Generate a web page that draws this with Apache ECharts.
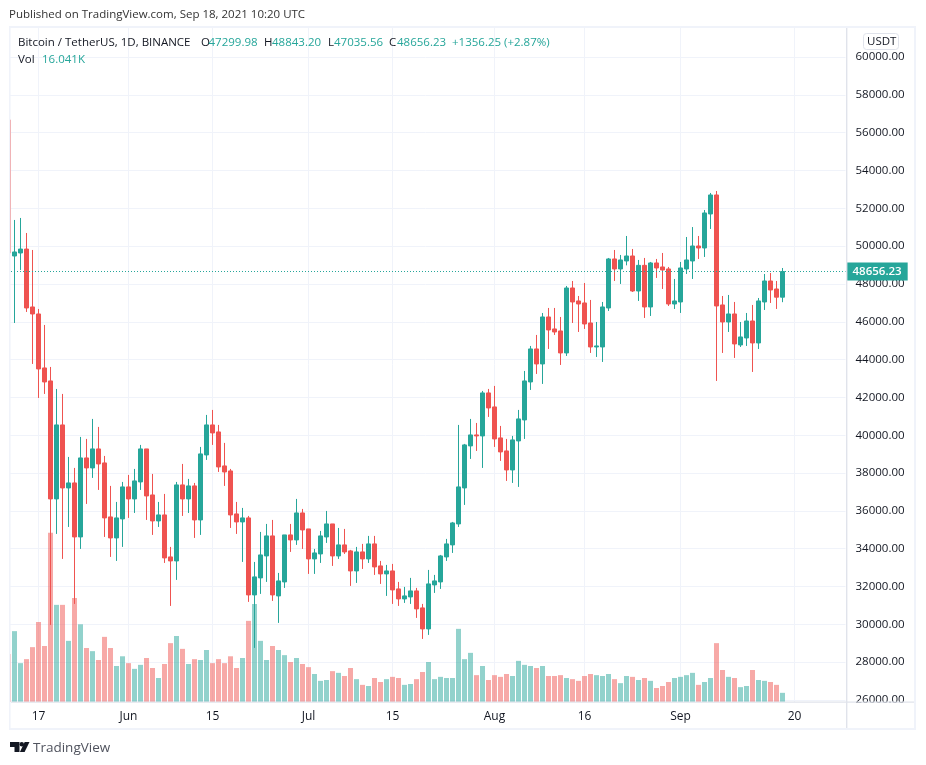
<!DOCTYPE html>
<html><head><meta charset="utf-8">
<style>html,body{margin:0;padding:0;background:#fff}#c{width:926px;height:765px}</style>
<script src="https://cdn.jsdelivr.net/npm/echarts@6/dist/echarts.min.js"></script>
</head><body><div id="c"></div>
<script>
const opens=[56670,
49479,49637,49845,46783,46413,43558,42871,36632,40545,
37214,37478,34623,38800,38271,39276,38536,35681,34570,35575,
37267,36632,37531,39276,36843,35469,35786,33566,33354,37373,
36632,37320,35522,38959,40545,40175,38377,38112,35839,35416,
35628,31557,32456,33618,34676,31504,32244,34729,34465,35891,
35046,33460,33724,34623,35310,33618,34201,33883,32825,33830,
33460,34254,33090,32667,32825,31874,31345,31451,31768,30870,
29759,32086,32244,33566,34201,35310,37214,39435,40016,39963,
42237,41497,39858,39170,38165,39699,40809,42818,44563,43770,
46254,45620,45514,44351,47787,47100,46994,45936,44668,44668,
46730,49321,48792,49215,49479,47628,48983,46783,49109,48898,
48792,46941,47047,48792,49215,50007,49902,51700,52705,46889,
45989,46413,44774,45144,46042,44880,47047,48157,47734,47299.98];
const closes=[49640,
49690,49845,46730,46413,43505,42818,36632,40545,37214,
37478,34623,38800,38271,39276,38483,35628,34570,35628,37267,
36632,37584,39276,36790,35469,35786,33513,33354,37373,36632,
37320,35522,39012,40545,40122,38324,38059,35786,35416,35628,
31557,32509,33671,34676,31557,32297,34729,34465,35891,34993,
33460,33777,34676,35310,33618,34201,33830,32825,33830,33460,
34254,33037,32667,32825,31821,31345,31504,31768,30817,29759,
32138,32297,33618,34254,35363,37267,39488,40016,39963,42237,
41444,39805,39118,38165,39752,40862,42871,44563,43770,46254,
45567,45461,44351,47787,47047,46941,45884,44668,44721,46783,
49321,48792,49268,49479,47628,48983,46783,49109,48845,48739,
46941,47100,48845,49268,50007,49902,51753,52705,46836,45989,
46413,44827,45197,46042,44880,47100,48157,47681,47300,48656.23];
const highs=[58000,
51383,51489,50695,49796,46677,45831,43611,42448,42184,
38853,38271,39910,39805,40862,40439,38906,37320,36473,37531,
37901,38218,39488,39276,37954,36473,36896,34095,37531,38483,
37690,37478,39382,41074,41338,40545,39594,38218,36473,36156,
35733,33301,34887,35310,35522,32719,34729,35310,36632,36103,
35046,33989,34940,35997,35310,35098,35046,33936,34095,34254,
34676,34676,33354,33143,33196,32244,31980,32456,31927,31081,
32878,32614,33671,34518,35416,40545,39541,40862,40650,42342,
42448,42607,40492,39805,39963,41338,43399,44721,45303,46465,
46730,46730,46254,47893,48157,47364,48051,47153,45989,47047,
49374,49796,49532,50536,49849,49268,49374,49162,49321,49637,
48898,48263,49162,50483,51008,50536,51911,52811,52916,47364,
47417,47047,45989,46465,46889,47258,48528,48581,48157,48843.20];
const lows=[48600,
45936,48739,46518,43770,41972,42184,29970,34782,33460,
35150,31081,33989,36368,37743,37108,34623,33566,33354,34095,
35628,35891,37108,35522,34729,35150,33248,30975,32350,35733,
35891,34570,34729,38694,39488,38059,37320,35098,34782,33301,
31187,28755,31610,32244,31239,30077,31927,33830,34201,33989,
32667,32667,33248,34306,33090,33460,33724,32033,32191,32931,
33248,32614,32138,31504,31081,30975,31134,31081,30341,29230,
29442,31662,31874,33354,33777,35150,36315,38747,39170,38271,
40968,39382,38641,37584,37478,37267,39805,42395,43241,42713,
44563,45303,43717,44192,45936,45461,45620,44351,44139,43875,
46571,48157,48000,48983,47575,47100,46201,46307,48316,47734,
46836,46677,46466,48528,48263,49321,49427,50906,42871,44351,
45461,44087,44668,44721,43347,44563,46624,46994,46677,47035.56];
const volumes=[84,
124,68,75,96,140,98,296,170,170,
107,182,136,94.5,89,73.5,114,94.5,63,80,
68,58,65,77,59.5,42,66.5,103,115.5,93,
66.5,75,73.5,91,68,75,68,80,59.5,77,
142,171.5,107,73.5,98,91,82,70,77,66.5,
61,49,37,38.5,54,51,45.5,59.5,40,30,
28,42,35,40,44,42,30,31.5,40,52.5,
70,40,44,42,42,128,75,86,47,63,
38.5,47,44,49,45.5,72,65,63,59.5,63,
45.5,45.5,47,42,40,37,45.5,49,47,45.5,
49,40,33,45.5,44,38.5,42,37,24.5,28,
35,42,44,47,51,30,35,42,103,56,
44,42,26,28,56,38.5,37,35,30,16.041];

const startDay=Date.UTC(2021,4,12);
const slotCount=140;
const categories=[];
for(let i=0;i<slotCount;i++){categories.push(new Date(startDay+i*864e5).toISOString().slice(0,10));}
const tickDates=['2021-05-17','2021-06-01','2021-06-15','2021-07-01','2021-07-15','2021-08-01','2021-08-16','2021-09-01','2021-09-20'];
const tickLabels=['17','Jun','15','Jul','15','Aug','16','Sep','20'];
const priceMin=26000, priceMax=60000, priceStep=2000;
const volumeMax=1181.25;

const UP='#26a69a',DOWN='#ef5350',FRAME='#f0f3fa',AXIS='#e0e3eb',INK='#131722',FONT='"Open Sans"';
const candleData=opens.map((o,i)=>[o,closes[i],lows[i],highs[i]]);
const volumeData=volumes.map((v,i)=>({value:v,itemStyle:{color:closes[i]>=opens[i]?'rgba(38,166,154,0.5)':'rgba(239,83,80,0.5)'}}));
const isTick=(i,v)=>tickDates.includes(v);

const txt=(x,y,text,fill,size)=>({type:'text',x,y,silent:true,z:100,style:{text,fill:fill||INK,font:(size||11.5)+'px '+FONT,textVerticalAlign:'middle',textBaseline:'middle'}});
const box=(x,y,w,h,fill)=>({type:'rect',silent:true,z:100,shape:{x,y,width:w,height:h},style:{fill}});
const legendText=[
 txt(18,43,'Bitcoin / TetherUS, 1D, BINANCE'),
 txt(201,43,'O'),txt(208.5,43,'47299.98',UP),
 txt(264,43,'H'),txt(272,43,'48843.20',UP),
 txt(328,43,'L'),txt(334,43,'47035.56',UP),
 txt(389,43,'C'),txt(397,43,'48656.23',UP),
 txt(452,43,'+1356.25 (+2.87%)',UP),
 txt(18,60,'Vol'),txt(42,60,'16.041K',UP)
];
const chart=echarts.init(document.getElementById('c'),null,{renderer:'canvas'});
chart.setOption({
 animation:false,
 backgroundColor:'#fff',
 grid:[
  {left:5.5,width:840,top:57,height:643},
  {left:5.5,width:840,top:27,height:675}
 ],
 xAxis:[
  {type:'category',gridIndex:0,data:categories,show:false},
  {type:'category',gridIndex:1,data:categories,
   axisLine:{show:false},axisTick:{show:false},
   axisLabel:{interval:isTick,margin:9,color:INK,fontSize:12,fontFamily:FONT,
     formatter:v=>tickLabels[tickDates.indexOf(v)]||''},
   splitLine:{show:true,interval:isTick,alignWithLabel:true,lineStyle:{color:FRAME,width:1}}}
 ],
 yAxis:[
  {type:'value',gridIndex:0,position:'right',min:priceMin,max:priceMax,interval:priceStep,
   axisLine:{show:false},axisTick:{show:false},
   axisLabel:{margin:10,color:INK,fontSize:11.5,fontFamily:FONT,padding:[4,0,0,0],formatter:v=>v.toFixed(2)},
   splitLine:{show:true,lineStyle:{color:FRAME,width:1}}},
  {type:'value',gridIndex:1,min:0,max:volumeMax,show:false,splitLine:{show:false}}
 ],
 series:[
  {name:'Vol',type:'bar',xAxisIndex:1,yAxisIndex:1,data:volumeData,barWidth:5,z:1},
  {name:'BTCUSDT',type:'candlestick',xAxisIndex:0,yAxisIndex:0,data:candleData,barWidth:4,z:2,
   itemStyle:{color:UP,color0:DOWN,borderColor:UP,borderColor0:DOWN,borderWidth:1},
   markLine:{silent:true,symbol:'none',animation:false,
     lineStyle:{color:UP,type:[1,2],dashOffset:0.5,width:1},
     label:{position:'end',distance:1,formatter:()=>closes[closes.length-1].toFixed(2),color:'#fff',
       backgroundColor:UP,padding:[4,6,2,6],fontSize:11.5,fontWeight:600,fontFamily:FONT},
     data:[{yAxis:closes[closes.length-1]}]}}
 ],
 graphic:{elements:[
   box(0,0,9,765,'#fff'),
   box(0,0,926,26,'#fff'),
   box(848,703,66,25,'#fff'),
   box(9,26,907,2,FRAME),
   box(9,728,907,2,FRAME),
   box(914,26,2,704,FRAME),
   box(9,26,1,704,FRAME),
   box(10,28,1,700,'rgba(240,243,250,0.6)'),
   box(846,28,1.4,700,AXIS),
   box(11,701.4,903,1.4,AXIS),
   {type:'rect',silent:true,z:100,shape:{x:863.5,y:33.5,width:35,height:16,r:3},style:{fill:'#fff',stroke:AXIS,lineWidth:1}},
   txt(867,42,'USDT'),
   txt(9,15,'Published on TradingView.com, Sep 18, 2021 10:20 UTC','#333'),
   ...legendText,
   {type:'polygon',silent:true,z:100,shape:{points:[[10,742],[19.5,742],[19.5,752],[14.5,752],[14.5,747],[10,747]]},style:{fill:'#131722'}},
   {type:'circle',silent:true,z:100,shape:{cx:21.8,cy:744.2,r:2.2},style:{fill:'#131722'}},
   {type:'polygon',silent:true,z:100,shape:{points:[[24.7,742],[29.5,742],[24.6,752],[19.9,752]]},style:{fill:'#131722'}},
   txt(33,748.5,'TradingView','#50535e',13.5)
 ]}
});
</script></body></html>
